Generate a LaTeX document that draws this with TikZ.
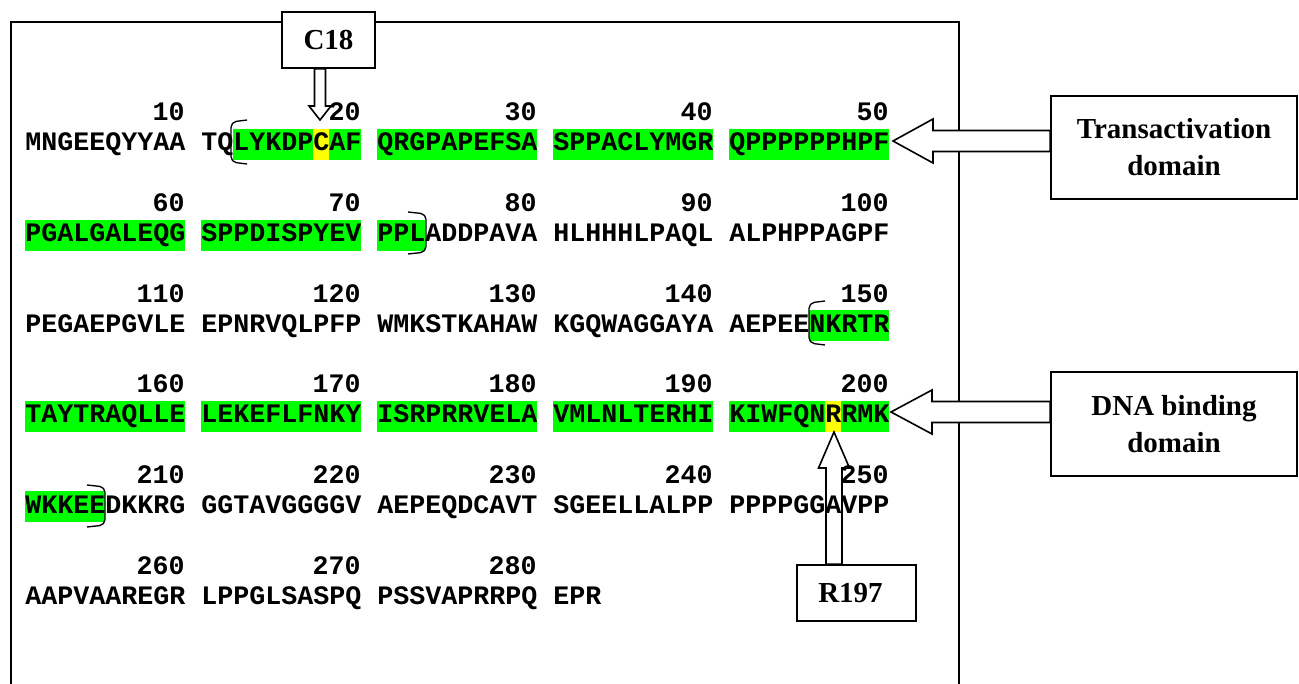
\documentclass[tikz,border=0pt]{standalone}
\usepackage{fontspec}
\setmainfont{Liberation Serif}
\newfontfamily\seqfont{Liberation Mono}
\usetikzlibrary{calc}
\definecolor{hlgreen}{RGB}{0,255,0}
\definecolor{hlyellow}{RGB}{255,255,0}

\begin{document}
\begin{tikzpicture}[
    x=0.75pt, y=-0.75pt,
    seq/.style={font=\seqfont\bfseries\fontsize{20}{24}\selectfont, inner sep=0pt, anchor=base west},
    num/.style={font=\seqfont\bfseries\fontsize{20}{24}\selectfont, inner sep=0pt, anchor=base east},
    tag/.style={rectangle, draw=black, fill=white, line width=1.3pt, align=center, inner sep=0pt, font=\bfseries\fontsize{21.75}{27.75}\selectfont},
    hollow/.style={draw=black, line width=1.2pt, line join=miter},
    brk/.style={line width=1pt, rounded corners=4pt},
    frame/.style={line width=1.5pt}
]
    \useasboundingbox (0,0) rectangle (1299,684);

    % highlighted regions
    \fill[hlgreen] (233,129) rectangle (361,160);
    \fill[hlgreen] (377,129) rectangle (537,160);
    \fill[hlgreen] (553,129) rectangle (713,160);
    \fill[hlgreen] (729,129) rectangle (889,160);
    \fill[hlyellow] (313,129) rectangle (329,160);
    \fill[hlgreen] (25,219.6) rectangle (185,250.6);
    \fill[hlgreen] (201,219.6) rectangle (361,250.6);
    \fill[hlgreen] (377,219.6) rectangle (425,250.6);
    \fill[hlgreen] (809,310.2) rectangle (889,341.2);
    \fill[hlgreen] (25,400.8) rectangle (185,431.8);
    \fill[hlgreen] (201,400.8) rectangle (361,431.8);
    \fill[hlgreen] (377,400.8) rectangle (537,431.8);
    \fill[hlgreen] (553,400.8) rectangle (713,431.8);
    \fill[hlgreen] (729,400.8) rectangle (889,431.8);
    \fill[hlyellow] (825,400.8) rectangle (841,431.8);
    \fill[hlgreen] (25,491.4) rectangle (105,522.4);

    % sequence
    \node[seq] (l1) at (25,151) {MNGEEQYYAA TQLYKDPCAF QRGPAPEFSA SPPACLYMGR QPPPPPPHPF};
    \node[seq] (l2) at (25,241.6) {PGALGALEQG SPPDISPYEV PPLADDPAVA HLHHHLPAQL ALPHPPAGPF};
    \node[seq] (l3) at (25,332.2) {PEGAEPGVLE EPNRVQLPFP WMKSTKAHAW KGQWAGGAYA AEPEENKRTR};
    \node[seq] (l4) at (25,422.8) {TAYTRAQLLE LEKEFLFNKY ISRPRRVELA VMLNLTERHI KIWFQNRRMK};
    \node[seq] (l5) at (25,513.4) {WKKEEDKKRG GGTAVGGGGV AEPEQDCAVT SGEELLALPP PPPPGGAVPP};
    \node[seq] (l6) at (25,604) {AAPVAAREGR LPPGLSASPQ PSSVAPRRPQ EPR};

    \foreach \r in {1,...,6} {
      \foreach \g in {1,...,5} {
        \pgfmathtruncatemacro\val{(\r-1)*50+\g*10}
        \ifnum\val<290 \node[num] (n\val) at ({9+176*\g},{121+90.6*(\r-1)}) {\val}; \fi
      }
    }

    % domain brackets
    \draw[brk] (247,120) -- (231,122) -- (231,162) -- (247,164);
    \draw[brk] (408,212) -- (426,214) -- (426,252) -- (408,254);
    \draw[brk] (825,301) -- (809,303) -- (809,343) -- (825,345);
    \draw[brk] (87,485) -- (105,487) -- (105,525) -- (87,527);

    % frame
    \draw[frame] (11,684) -- (11,22) -- (959,22) -- (959,684);

    \node[tag, minimum width=69.75pt, minimum height=42pt] (c18) at (328.5,40) {C18};
    \node[tag, minimum width=184.5pt, minimum height=77.25pt] (ta) at (1174,147.5) {Transactivation\\domain};
    \node[tag, minimum width=184.5pt, minimum height=78pt] (dna) at (1174,424) {DNA binding\\domain};
    \node[tag, minimum width=89.25pt, minimum height=42pt] (r197) at (856.5,593) {R197\hspace{9pt}};

    \coordinate (c18tip) at (320,120);
    \coordinate (tatip) at (893,141);
    \coordinate (dnatip) at (891,412);
    \coordinate (rtip) at (834,432);

    \draw[hollow] (c18tip) -- ++(-11,-14) -- ++(5.5,0) -- ($(c18tip |- c18.south)+(-5.5,0)$) -- ++(11,0)
        -- ($(c18tip)+(5.5,-14)$) -- ++(5.5,0) -- cycle;
    \draw[hollow, fill=white] (tatip) -- ++(40,-22) -- ++(0,11.5) -- ($(tatip -| ta.west)+(0,-10.5)$) -- ++(0,21)
        -- ($(tatip)+(40,10.5)$) -- ++(0,11.5) -- cycle;
    \draw[hollow, fill=white] (dnatip) -- ++(41,-22) -- ++(0,11.5) -- ($(dnatip -| dna.west)+(0,-10.5)$) -- ++(0,21)
        -- ($(dnatip)+(41,10.5)$) -- ++(0,11.5) -- cycle;
    \draw[hollow] (rtip) -- ++(-15.5,36) -- ++(7.5,0) -- ($(rtip |- r197.north)+(-8,0)$) -- ++(16,0)
        -- ($(rtip)+(8,36)$) -- ++(7.5,0) -- cycle;
\end{tikzpicture}
\end{document}
